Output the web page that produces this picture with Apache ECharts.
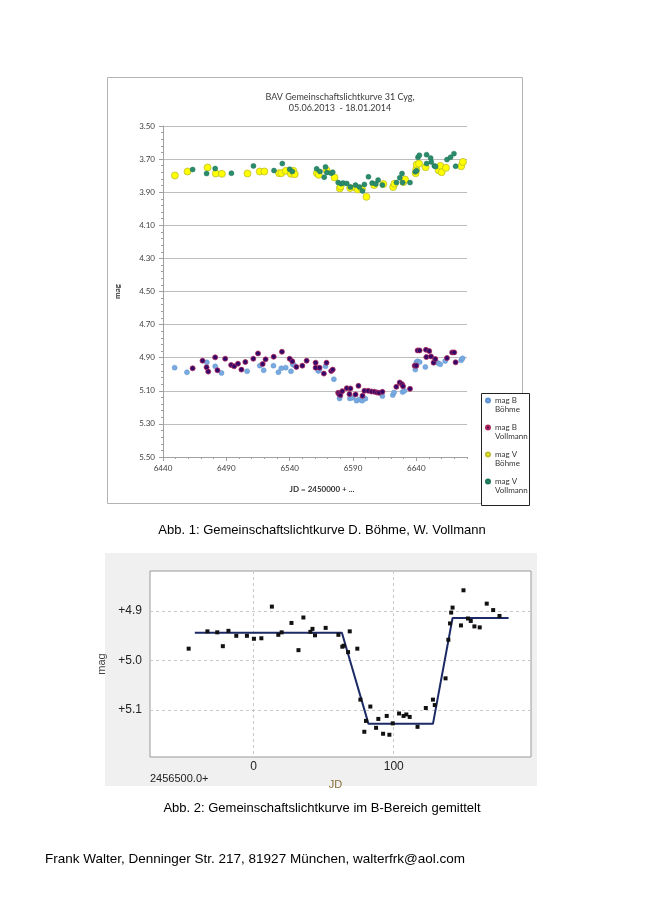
<!DOCTYPE html>
<html><head><meta charset="utf-8">
<script src="https://cdn.jsdelivr.net/npm/echarts@6/dist/echarts.min.js"></script>
<style>html,body{margin:0;padding:0;background:#fff}#c{width:645px;height:913px}</style>
</head><body><div id="c"></div>
<script>
// ---------- Abb. 1 data (JD - 2450000, mag) ----------
const bBoehmeJD = [6449.2,6458.9,6474.6,6481.2,6486.2,6506.4,6516.4,6519.5,6527.2,6531.1,6533.4,6536.9,6541,6542.4,6543.4,6562.6,6563.4,6568.3,6574.9,6579.4,6579.6,6587.5,6589.6,6592.8,6594.9,6597.2,6599.8,6613.2,6621.4,6622.4,6629.2,6630.6,6639.2,6640,6641,6642.6,6647.1,6654.4,6657.1,6658.9,6662.8,6675.4,6676.5];
const bBoehmeMag = [4.960,4.988,4.928,4.952,4.992,4.982,4.948,4.976,4.948,4.988,4.964,4.960,4.982,4.940,4.944,4.980,4.972,4.952,5.030,5.146,5.137,5.146,5.142,5.160,5.152,5.160,5.148,5.132,5.126,5.110,5.108,5.100,4.972,4.928,4.922,4.926,4.956,4.920,4.932,4.940,4.920,4.916,4.904];

const bVollmannJD = [6463.4,6471.2,6474.4,6475.7,6481.2,6483,6489.1,6493.8,6496.2,6499.2,6501.9,6505,6511.3,6515,6518.7,6521,6527.4,6533.9,6540,6542.1,6545.3,6550,6553.4,6560.5,6560.5,6563.6,6567,6569.1,6572.8,6574,6578.3,6579,6580,6581.5,6585.1,6588,6587.2,6592,6594.3,6597.5,6599,6602,6604.6,6607,6609,6610.6,6613.2,6624.2,6626.9,6628.7,6629.5,6635,6638.7,6640,6641,6642.6,6647.6,6650.2,6647.9,6651.6,6653.6,6655,6664.2,6668.3,6669.9,6671];
const bVollmannMag = [4.964,4.918,4.958,4.984,4.898,4.976,4.906,4.944,4.952,4.936,4.972,4.926,4.906,4.874,4.938,4.910,4.894,4.864,4.906,4.922,4.956,4.948,4.918,4.930,4.960,4.960,4.996,4.930,4.980,4.972,5.112,5.120,5.126,5.102,5.084,5.086,5.120,5.122,5.070,5.130,5.100,5.100,5.104,5.106,5.110,5.112,5.106,5.076,5.050,5.060,5.072,5.088,4.948,4.948,4.856,4.856,4.852,4.860,4.896,4.892,4.930,4.908,4.902,4.868,4.868,4.928];

const vBoehmeJD = [6449.4,6459.4,6475.2,6481.7,6486.5,6506.7,6516.4,6520,6531.6,6533.4,6536.9,6541,6542.9,6544,6561.5,6563,6569.1,6575.4,6579.6,6580.2,6587.8,6592,6593.8,6597,6600.6,6606.7,6614,6621.7,6622.7,6629.8,6631.1,6639.5,6640,6640.3,6642.1,6647.3,6657.6,6658.9,6660,6663.4,6675.4,6676.8];
const vBoehmeMag = [3.799,3.775,3.751,3.787,3.789,3.787,3.775,3.775,3.785,3.785,3.771,3.789,3.771,3.791,3.785,3.795,3.767,3.811,3.877,3.865,3.875,3.872,3.884,3.880,3.928,3.857,3.851,3.869,3.849,3.839,3.823,3.785,3.761,3.733,3.727,3.749,3.767,3.741,3.779,3.753,3.743,3.717];

const vVollmannJD = [6463.4,6474.4,6481.2,6494,6511.4,6527.6,6534.2,6540,6542.1,6561.3,6563.9,6567.3,6568.3,6569.4,6572.8,6574,6578.3,6580.6,6582.2,6585.1,6588,6592,6595.1,6597.5,6599,6602.2,6605.1,6608,6609.8,6613.2,6624.3,6626.9,6628.7,6629.2,6635,6639.2,6640.2,6641.3,6642.4,6648.1,6648.1,6651.3,6651.8,6654.2,6655.2,6664.2,6667,6669.7,6671];
const vVollmannMag = [3.763,3.787,3.757,3.785,3.741,3.769,3.727,3.761,3.775,3.759,3.775,3.809,3.747,3.781,3.785,3.779,3.842,3.849,3.845,3.847,3.869,3.857,3.869,3.892,3.853,3.807,3.845,3.851,3.827,3.857,3.842,3.813,3.787,3.842,3.842,3.777,3.770,3.689,3.677,3.673,3.727,3.694,3.717,3.741,3.745,3.703,3.689,3.667,3.743];

const fig1XTicks = [6440,6490,6540,6590,6640];
const fig1YTicks = [3.5,3.7,3.9,4.1,4.3,4.5,4.7,4.9,5.1,5.3,5.5];

// ---------- Abb. 2 data (JD - 2456500, mag B mean) ----------
const meanJD = [-46.4,-33,-26,-22,-18,-12.4,-4.8,0.2,5.5,13,17.6,20,27,32,35.5,40.5,42,43.8,51.4,60.5,63.3,64.3,67.4,68.6,74,76.2,79,80.2,83.3,87.4,89,92.4,95,96.9,99.3,103.8,107,109,111.4,117,122.9,128,129.3,137,139,140.2,141,142,148,149.8,153,155,157.6,161.4,166.4,171,175.5];
const meanMag = [4.976,4.941,4.943,4.971,4.940,4.950,4.950,4.956,4.955,4.891,4.948,4.943,4.924,4.979,4.913,4.942,4.936,4.949,4.934,4.948,4.972,4.970,4.983,4.941,4.976,5.079,5.144,5.122,5.093,5.136,5.118,5.148,5.112,5.150,5.127,5.107,5.112,5.109,5.114,5.134,5.096,5.079,5.090,5.036,4.958,4.925,4.903,4.893,4.929,4.858,4.915,4.920,4.931,4.933,4.885,4.898,4.910];
const fitJD = [-42,63,82,128,142,182];
const fitMag = [4.944,4.944,5.128,5.128,4.914,4.914];
const fig2XTicks = [0,100];
const fig2YTicks = [4.9,5.0,5.1];

function zip(a,b){const n=Math.min(a.length,b.length);const r=[];for(let i=0;i<n;i++)r.push([a[i],b[i]]);return r;}
function steps(a,b,s){const r=[];const n=Math.round((b-a)/s);for(let i=0;i<=n;i++)r.push(Math.round((a+i*s)*1000)/1000);return r;}

const chart = echarts.init(document.getElementById('c'), null, {renderer:'canvas'});
const F1 = 'Lato, "Open Sans", sans-serif';
const F2 = '"Liberation Sans", Arial, sans-serif';

const option = {
  animation:false,
  backgroundColor:'#ffffff',
  graphic:[
    {type:'rect', z:-10, silent:true, shape:{x:107.5,y:77.5,width:415,height:426}, style:{fill:'#fff',stroke:'#b4b4b4',lineWidth:1}},
    {type:'rect', z:-10, silent:true, shape:{x:105,y:553,width:432,height:233}, style:{fill:'#f0f0f0'}},
    {type:'rect', z:-5, silent:true, shape:{x:481.5,y:393.5,width:48,height:112}, style:{fill:'#fff',stroke:'#222',lineWidth:1}},
    {type:'text', x:340, y:97, style:{text:'BAV Gemeinschaftslichtkurve 31 Cyg,', font:'9px '+F1, fill:'#3a3a3a', align:'center', verticalAlign:'middle'}},
    {type:'text', x:340, y:108, style:{text:'05.06.2013  - 18.01.2014', font:'9px '+F1, fill:'#3a3a3a', align:'center', verticalAlign:'middle'}},
    {type:'text', x:322, y:530, style:{text:'Abb. 1: Gemeinschaftslichtkurve D. Böhme, W. Vollmann', font:'13px '+F2, fill:'#000', align:'center', verticalAlign:'middle'}},
    {type:'text', x:322, y:808, style:{text:'Abb. 2: Gemeinschaftslichtkurve im B-Bereich gemittelt', font:'13px '+F2, fill:'#000', align:'center', verticalAlign:'middle'}},
    {type:'text', x:45, y:859, style:{text:'Frank Walter, Denninger Str. 217, 81927 München, walterfrk@aol.com', font:'13.5px '+F2, fill:'#000', align:'left', verticalAlign:'middle'}},
    {type:'text', x:150, y:779, style:{text:'2456500.0+', font:'11px '+F2, fill:'#222', align:'left', verticalAlign:'middle'}}
  ],
  legend:{
    left:485, top:387, orient:'vertical',
    data:['mag B Böhme','mag B Vollmann','mag V Böhme','mag V Vollmann'],
    itemWidth:4, itemHeight:4, itemGap:0,
    icon:'circle',
    padding:0,
    textStyle:{fontSize:8, lineHeight:9, color:'#333', fontFamily:F1},
    formatter:function(n){const i=n.lastIndexOf(' ');return '\n'+n.slice(0,i)+'\n'+n.slice(i+1);}
  },
  grid:[
    {left:163, top:126, width:304, height:331, show:false},
    {left:150, top:571, width:381, height:186, show:true, backgroundColor:'#ffffff', borderColor:'#9a9a9a', borderWidth:1}
  ],
  xAxis:[
    {type:'value', gridIndex:0, min:6440, max:6680, position:'bottom',
     axisLine:{show:true, lineStyle:{color:'#a0a0a0'}},
     axisTick:{show:true, length:4, customValues:fig1XTicks, lineStyle:{color:'#a0a0a0'}},
     axisLabel:{customValues:fig1XTicks, fontSize:8, color:'#404040', margin:7, fontFamily:F1, formatter:function(v){return String(v);}},
     splitLine:{show:false},
     name:'JD = 2450000 + ...', nameLocation:'middle', nameGap:28,
     nameTextStyle:{fontSize:8, fontWeight:'bold', color:'#333', fontFamily:F1, padding:[0,0,0,14]}},
    {type:'value', gridIndex:0, min:6440, max:6680, interval:10, position:'bottom',
     axisLine:{show:false}, axisTick:{show:true, length:2, lineStyle:{color:'#a0a0a0'}},
     axisLabel:{show:false}, splitLine:{show:false}},
    {type:'value', gridIndex:1, min:-74, max:198,
     axisLine:{show:false},
     axisTick:{show:false, customValues:fig2XTicks},
     axisLabel:{customValues:fig2XTicks, fontSize:12, color:'#222', margin:4, fontFamily:F2},
     splitLine:{show:true, lineStyle:{color:'#c8c8c8', type:[3,3]}},
     name:'JD', nameLocation:'middle', nameGap:22,
     nameTextStyle:{fontSize:11, color:'#8a6d3b', fontFamily:F2, padding:[0,10,0,0]}}
  ],
  yAxis:[
    {type:'value', gridIndex:0, min:3.5, max:5.5, inverse:true, position:'left',
     axisLine:{show:true, lineStyle:{color:'#a0a0a0'}},
     axisTick:{show:true, length:4, customValues:fig1YTicks, lineStyle:{color:'#a0a0a0'}},
     axisLabel:{customValues:fig1YTicks, fontSize:8, color:'#404040', margin:8, fontFamily:F1, formatter:function(v){return v.toFixed(2);}},
     splitLine:{show:true, lineStyle:{color:'#bdbdbd', width:1}},
     name:'mag', nameLocation:'middle', nameGap:42,
     nameTextStyle:{fontSize:8, fontWeight:'bold', color:'#333', fontFamily:F1}},
    {type:'value', gridIndex:0, min:3.5, max:5.5, inverse:true, position:'left',
     axisLine:{show:false},
     axisTick:{show:true, length:2, customValues:steps(3.5,5.5,0.04), lineStyle:{color:'#a0a0a0'}},
     axisLabel:{show:false}, splitLine:{show:false}},
    {type:'value', gridIndex:1, min:4.819, max:5.195, inverse:true,
     axisLine:{show:false},
     axisTick:{show:false, customValues:fig2YTicks},
     axisLabel:{customValues:fig2YTicks, fontSize:12, color:'#222', margin:8, fontFamily:F2, formatter:function(v){return '+'+v.toFixed(1);}},
     splitLine:{show:true, lineStyle:{color:'#c8c8c8', type:[3,3]}},
     name:'mag', nameLocation:'middle', nameGap:34,
     nameTextStyle:{fontSize:11, color:'#444', fontFamily:F2}}
  ],
  series:[
    {name:'mag B Böhme', type:'scatter', xAxisIndex:0, yAxisIndex:0, symbolSize:5,
     itemStyle:{color:'#78aae0', borderColor:'#5f92cf', borderWidth:0.5, opacity:1}, data:zip(bBoehmeJD,bBoehmeMag)},
    {name:'mag B Vollmann', type:'scatter', xAxisIndex:0, yAxisIndex:0, symbolSize:5,
     itemStyle:{color:'#33086b', borderColor:'#b02a5a', borderWidth:0.8, opacity:1}, data:zip(bVollmannJD,bVollmannMag)},
    {name:'mag V Böhme', type:'scatter', xAxisIndex:0, yAxisIndex:0, symbolSize:7,
     itemStyle:{color:'#ffff00', borderColor:'#bdbd2e', borderWidth:0.8, opacity:1}, data:zip(vBoehmeJD,vBoehmeMag)},
    {name:'mag V Vollmann', type:'scatter', xAxisIndex:0, yAxisIndex:0, symbolSize:5,
     itemStyle:{color:'#2a8c6c', borderColor:'#1f7457', borderWidth:0.5, opacity:1}, data:zip(vVollmannJD,vVollmannMag)},
    {name:'Mittelwert', type:'line', xAxisIndex:2, yAxisIndex:2, symbol:'none',
     lineStyle:{color:'#1c2a66', width:2}, data:zip(fitJD,fitMag), z:2},
    {name:'B gemittelt', type:'scatter', xAxisIndex:2, yAxisIndex:2, symbol:'rect', symbolSize:4,
     itemStyle:{color:'#111', opacity:1}, data:zip(meanJD,meanMag), z:3}
  ]
};
chart.setOption(option);
</script></body></html>
